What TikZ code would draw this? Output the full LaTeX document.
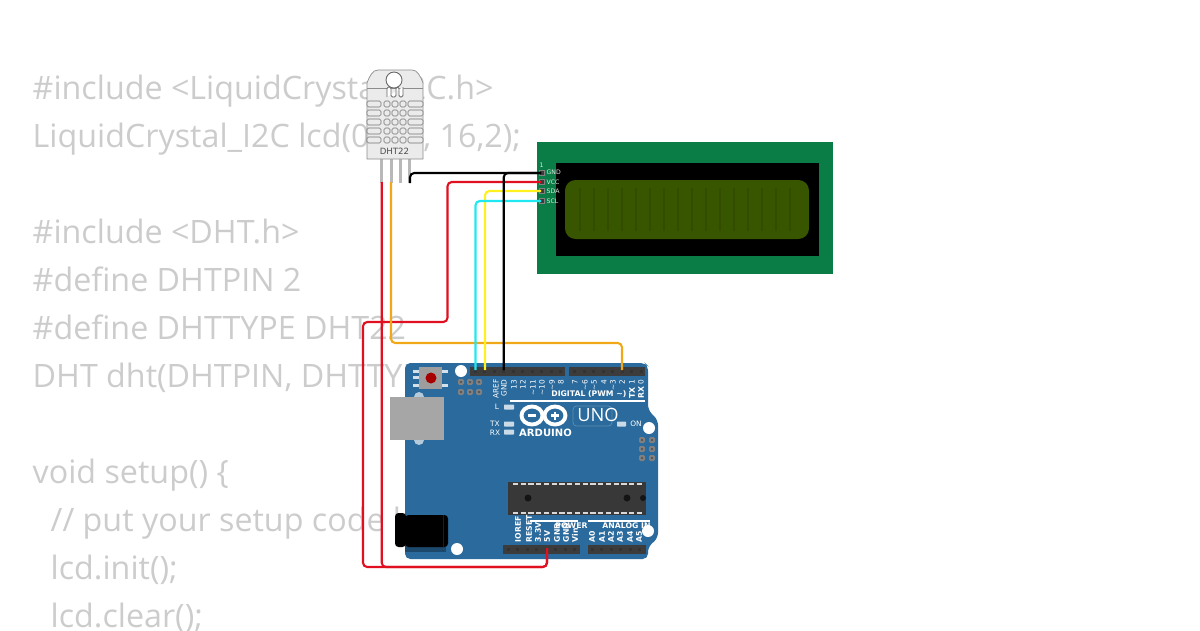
\documentclass[tikz,border=0pt]{standalone}
\usepackage{fontspec}
\setmainfont{Open Sans}
\newfontfamily\labelfont{DejaVu Sans}
\definecolor{codegray}{HTML}{CCCCCC}
\definecolor{boardblue}{HTML}{2A6A9C}
\definecolor{headgray}{HTML}{3C3C3C}
\definecolor{lcdgreen}{HTML}{0A7D46}
\definecolor{lcdscreen}{HTML}{385600}
\definecolor{wirered}{HTML}{E01020}
\definecolor{wireorange}{HTML}{F0A818}
\definecolor{wireyellow}{HTML}{FFF020}
\definecolor{wirecyan}{HTML}{20E8F0}
\definecolor{sensorgray}{HTML}{EBEBEB}
\tikzset{
  codeline/.style={anchor=base west,text=codegray,font=\fontsize{9.17pt}{9.17pt}\selectfont,inner sep=0pt},
  wire/.style={line width=0.6pt,rounded corners=1.2pt},
  silk/.style={text=white,font=\labelfont\fontsize{2.1pt}{2.1pt}\selectfont,inner sep=0pt},
  silkbold/.style={silk,font=\labelfont\bfseries\fontsize{2.2pt}{2.2pt}\selectfont},
  lcdlabel/.style={silk,anchor=west,text=white!85!lcdgreen,font=\labelfont\fontsize{1.75pt}{1.75pt}\selectfont},
  ledpad/.style={fill=white!75!boardblue,rounded corners=0.2pt},
  hole/.style={fill=white},
  header/.style={fill=headgray},
  slot/.style={draw=black!55,line width=0.15pt,fill=sensorgray,rounded corners=0.4pt},
  sensorleg/.style={fill=black!28},
  icsppad/.style={fill=black!50,rounded corners=0.4pt}
}
\begin{document}
\begin{tikzpicture}[x=0.01cm,y=-0.01cm]
  \useasboundingbox (0,0) rectangle (1200,630);
  % listing behind the parts
  \node[codeline] (line1) at (32,99) {\#include <LiquidCrystal\_I2C.h>};
  \node[codeline] (line2) at (32,147) {LiquidCrystal\_I2C lcd(0x27, 16,2);};
  \node[codeline] (line3) at (32,243) {\#include <DHT.h>};
  \node[codeline] (line4) at (32,291) {\#define DHTPIN 2};
  \node[codeline] (line5) at (32,339) {\#define DHTTYPE DHT22};
  \node[codeline] (line6) at (32,387) {DHT dht(DHTPIN, DHTTYPE);};
  \node[codeline] (line7) at (32,483) {void setup() \{};
  \node[codeline] (line8) at (50,531) {// put your setup code here};
  \node[codeline] (line9) at (50,579) {lcd.init();};
  \node[codeline] (line10) at (50,627) {lcd.clear();};

  % lcd
  \fill[lcdgreen] (537,142) rectangle (833,274);
  \fill[black] (556,163) rectangle (819,256);
  \fill[lcdscreen,rounded corners=3pt] (565,180) rectangle (809,239);
  \foreach \x in {580,594,...,790} \draw[black,opacity=0.1,line width=0.3pt] (\x,188)--(\x,231);
  \node[lcdlabel] (pinone) at (539,165) {1};
  \node[lcdlabel] (gndlabel) at (546,172.5) {GND};
  \node[lcdlabel] (vcclabel) at (546,182) {VCC};
  \node[lcdlabel] (sdalabel) at (546,191) {SDA};
  \node[lcdlabel] (scllabel) at (546,201) {SCL};
  \foreach \y/\n in {173/gnd,182/vcc,191/sda,201/scl} {
    \draw[gray,line width=0.25pt,fill=headgray] (539,\y-2.5) rectangle (544,\y+2.5);
    \coordinate (lcd\n) at (541,\y);
  }

  % sensor
  \fill[sensorleg] (380,159) rectangle (383,183);
  \fill[sensorleg] (389.5,159) rectangle (392.5,183);
  \fill[sensorleg] (398.5,159) rectangle (401.5,183);
  \fill[sensorleg] (408,159) rectangle (411,183);
  \draw[black!45,line width=0.2pt,fill=sensorgray] (367,159) -- (367,83) .. controls (370,75) and (373,70) .. (378,70) -- (412,70) .. controls (417,70) and (420,75) .. (423,83) -- (423,159) -- cycle;
  \draw[black!45,line width=0.2pt] (367,88) -- (423,88);
  \draw[black!60,line width=0.25pt,fill=white] (394,80) circle (8);
  \draw[black!60,line width=0.25pt,rounded corners=0.4pt,fill=white] (387,97) -- (387,87) -- (391,87) -- (391,97) -- (396,97) -- (396,87) -- (399,87) -- (399,97) -- (403,97) -- (403,87);
  \foreach \y in {104,113,122,131,140} {
    \draw[slot] (367,\y-3) rectangle (381,\y+3);
    \draw[slot] (408,\y-3) rectangle (423,\y+3);
    \foreach \x in {384,392,400} \draw[slot] (\x,\y-3) rectangle (\x+6,\y+3);
  }
  \node[text=black!70,font=\labelfont\fontsize{2.45pt}{2.45pt}\selectfont,inner sep=0pt] (dhtname) at (394.5,151) {DHT22};
  \coordinate (dhtvcc) at (381.7,182);
  \coordinate (dhtdata) at (391,182);
  \coordinate (dhtgnd) at (410,183);

  % board
  \fill[boardblue,rounded corners=1.5pt] (405,363) -- (645,363) -- (648,366) -- (648,410) -- (658,420) -- (658,538) -- (648,547) -- (648,559) -- (405,559) -- cycle;
  \fill[header] (470,367) rectangle (565,376);
  \fill[header] (569,367) rectangle (645,376);
  \fill[header] (503,545) rectangle (580,554);
  \fill[header] (588,545) rectangle (646,554);
  \foreach \x in {473.5,483,...,560} \fill[black!80] (\x,370) rectangle +(3,3);
  \foreach \x in {573,582.5,...,642} \fill[black!80] (\x,370) rectangle +(3,3);
  \foreach \x in {506.5,516,...,576} \fill[black!80] (\x,548) rectangle +(3,3);
  \foreach \x in {590.5,600,...,642} \fill[black!80] (\x,548) rectangle +(3,3);

  % holes
  \fill[hole] (461,371) circle (6);
  \fill[hole] (649,428) circle (6);
  \fill[hole] (457,549) circle (6);
  \fill[hole] (648,531) circle (6);

  % icsp
  \foreach \x in {461,470,479} \foreach \y in {382,392} {
    \fill[icsppad] (\x-3,\y-3) rectangle +(6,6);
    \fill[black!70] (\x,\y) circle (1.2);
  }
  \foreach \x in {642,652} \foreach \y in {440,449,458} {
    \fill[icsppad] (\x-3,\y-3) rectangle +(6,6);
    \fill[black!70] (\x,\y) circle (1.2);
  }

  % reset, usb, power jack
  \fill[white!80!boardblue] (413,369.5) rectangle (420,372.5);
  \fill[white!80!boardblue] (413,376) rectangle (420,379);
  \fill[white!80!boardblue] (413,383.5) rectangle (420,386.5);
  \fill[white!80!boardblue] (441,369.5) rectangle (448,372.5);
  \fill[white!80!boardblue] (441,383.5) rectangle (448,386.5);
  \fill[black!38] (419,367) rectangle (442,389);
  \fill[red!65!black] (431,378) circle (5.5);
  \fill[white!65!boardblue] (419,397) circle (5);
  \fill[white!65!boardblue] (419,440) circle (5);
  \fill[black!35] (390,397) rectangle (444,440);
  \fill[black,opacity=0.3] (405,545) rectangle (446,552);
  \fill[black,rounded corners=1pt] (395,513) rectangle (406,547);
  \fill[black,rounded corners=1pt] (405,515) rectangle (448,547);
  \draw[black!70!boardblue,line width=0.15pt] (443,515) -- (443,547);

  % chip
  \fill[black!78] (508,482) rectangle (646,515);
  \draw[white!85!black,dash pattern=on 1.5pt off 0.7pt,line width=0.5pt] (513,484) -- (643,484);
  \draw[white!85!black,dash pattern=on 1.5pt off 0.7pt,line width=0.5pt] (513,513) -- (643,513);
  \fill[black!92] (528,498) circle (3.5);
  \fill[black!92] (627,498) circle (3.5);
  \fill[black!92] (643,498) circle (3);

  % silk on the board
  \foreach \x/\t in {496/AREF,504/GND,514/13,523/12,533/\textasciitilde11,542/\textasciitilde10,552/\textasciitilde9,561/8,575/7,585/\textasciitilde6,594/\textasciitilde5,604/4,613/\textasciitilde3,622/2,632/1,641/0}
    \node[silk,rotate=90,anchor=east] (top\x) at (\x,379) {\t};
  \node[silkbold,rotate=90,anchor=west] (txtop) at (632,399) {TX};
  \node[silkbold,rotate=90,anchor=west] (rxtop) at (641,399) {RX};
  \draw[white,line width=0.3pt] (510,401) -- (645,401);
  \node[silkbold,anchor=east] (digital) at (627,394.5) {DIGITAL (PWM \textasciitilde)};
  \node[silk] (ltext) at (497,407) {L};
  \node[silk] (txtext) at (495,424) {TX};
  \node[silk] (rxtext) at (495,432.5) {RX};
  \node[silk] (ontext) at (636,424) {ON};
  \fill[ledpad] (504,404.5) rectangle (514,409.5);
  \fill[ledpad] (504,421.5) rectangle (514,426.5);
  \fill[ledpad] (504,429.5) rectangle (514,434.5);
  \fill[ledpad] (617,421.5) rectangle (626,426.5);
  \draw[white,line width=1.1pt] (532,415.5) ellipse (10.5 and 9);
  \draw[white,line width=1.1pt] (555,415.5) ellipse (10.5 and 9);
  \draw[white,line width=0.6pt] (528,415.5) -- (536,415.5);
  \draw[white,line width=0.6pt] (551,415.5) -- (559,415.5);
  \draw[white,line width=0.6pt] (555,411.5) -- (555,419.5);
  \node[text=white,font=\labelfont\bfseries\fontsize{2.85pt}{2.85pt}\selectfont,inner sep=0pt] (arduino) at (545.5,433) {ARDUINO};
  \draw[white!25!boardblue,line width=0.2pt,rounded corners=1pt] (573,406) rectangle (612,426);
  \node[text=white,font=\fontsize{5.2pt}{5.2pt}\selectfont,inner sep=0pt] (uno) at (598,415) {UNO};
  \foreach \x/\t in {518/IOREF,529/RESET,538/3.3V,547/5V,557/GND,566/GND,575/Vin,592/A0,602/A1,611/A2,620/A3,630/A4,639/A5}
    \node[silkbold,rotate=90,anchor=west] (bottom\x) at (\x,543) {\t};
  \draw[white,line width=0.3pt] (530,521) -- (578,521);
  \draw[white,line width=0.3pt] (588,521) -- (650,521);
  \node[silkbold] (powertext) at (571.5,526) {POWER};
  \node[silkbold] (analogtext) at (626.5,526) {ANALOG IN};

  % board pins for the wires
  \coordinate (pinscl) at (475.5,370);
  \coordinate (pinsda) at (485,370);
  \coordinate (pingnd) at (503.7,370);
  \coordinate (pintwo) at (622,370);
  \coordinate (pinfive) at (547,548);

  % wires
  \draw[wire,wirered] (pinfive) -- (547,567) -- (363,567) -- (363,322) -- (447.5,322) -- (447.5,182) -- (lcdvcc);
  \draw[wire,wirered] (dhtvcc) -- (381.7,567) -- (547,567) -- (pinfive);
  \draw[wire,wireorange] (dhtdata) -- (391,343) -- (622,343) -- (pintwo);
  \draw[wire,wireyellow] (pinsda) -- (485,191) -- (lcdsda);
  \draw[wire,wirecyan] (pinscl) -- (475.5,201) -- (lcdscl);
  \draw[wire,black] (dhtgnd) -- (410,173) -- (lcdgnd);
  \draw[wire,black] (pingnd) -- (503.7,173) -- (lcdgnd);
\end{tikzpicture}
\end{document}
